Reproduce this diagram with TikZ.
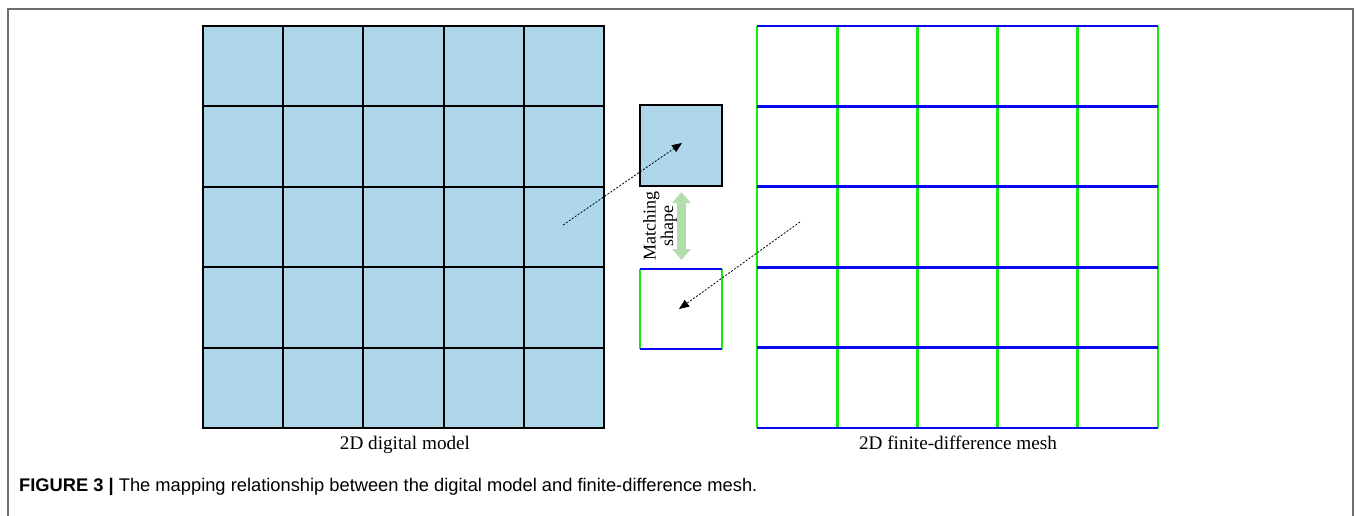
\documentclass[tikz,border=0pt]{standalone}
\usepackage{fontspec}
\setmainfont{Liberation Serif}
\newfontfamily\capfont{Liberation Sans}
\usetikzlibrary{arrows.meta}
\definecolor{cellblue}{RGB}{174,214,234}
\definecolor{meshblue}{RGB}{10,10,240}
\definecolor{meshgreen}{RGB}{20,235,20}
\definecolor{matchgreen}{RGB}{180,221,174}
\definecolor{framegray}{RGB}{110,110,110}
\tikzset{
 cell/.style={draw=black,line width=2pt,fill=cellblue},
 hline/.style={draw=meshblue,line width=2.8pt},
 vline/.style={draw=meshgreen,line width=2.8pt},
 maparrow/.style={line width=.8pt,dash pattern=on 2pt off 1.6pt,-{Triangle[length=10pt,width=8pt]}},
 matcharrow/.style={draw=matchgreen,line width=8.5pt,{Triangle[length=11pt,width=18pt]}-{Triangle[length=11pt,width=18pt]}},
 label/.style={font=\fontsize{19.2}{21}\selectfont,inner sep=0},
 framebox/.style={draw=framegray,line width=1.2pt}
}

\begin{document}
\begin{tikzpicture}[x=1pt,y=-1pt]
\path[use as bounding box] (0,0) rectangle (1356,516);
\draw[framebox] (8,516) |- (1353,9) -- (1353,516);
% digital model
\foreach \i in {0,...,4}
 \foreach \j in {0,...,4}
  \draw[cell] (203+80.2*\i,26+80.4*\j) rectangle ++(80.2,80.4);
\node[label,anchor=base] (modellbl) at (405,449) {2D digital model};
% finite-difference mesh
\foreach \i in {0,...,5}
 \draw[vline] (757+80.2*\i,26) -- ++(0,402);
\foreach \j in {0,...,5}
 \draw[hline] (757,26+80.4*\j) -- ++(401,0);
\node[label,anchor=base] (meshlbl) at (958,449) {2D finite-difference mesh};
% single cells
\coordinate (C1) at (640,105);
\coordinate (C2) at (722,186);
\draw[cell] (C1) rectangle (C2);
\coordinate (M1) at (640,269);
\coordinate (M2) at (722,349);
\draw[vline] (M1) -- (M1|-M2);
\draw[vline] (M2|-M1) -- (M2);
\draw[hline] (M1) -- (M2|-M1);
\draw[hline] (M1|-M2) -- (M2);
% mapping
\coordinate (fromcell) at (563,225);
\coordinate (tocell) at (682,143);
\draw[maparrow] (fromcell) -- (tocell);
\coordinate (frommesh) at (800,222);
\coordinate (tomesh) at (679,309);
\draw[maparrow] (frommesh) -- (tomesh);
\coordinate (matchlo) at (681.5,260);
\coordinate (matchhi) at (681.5,192);
\draw[matcharrow] (matchlo) -- (matchhi);
\node[label,rotate=90,align=center,font=\fontsize{18}{14}\selectfont] (matchlbl) at (660,226) {Matching\\shape};
% caption
\node[anchor=base west,inner sep=0,font=\capfont\fontsize{18.3}{20}\selectfont] (caption) at (19,491)
 {\textbf{FIGURE 3 |} The mapping relationship between the digital model and finite-difference mesh.};
\end{tikzpicture}
\end{document}
